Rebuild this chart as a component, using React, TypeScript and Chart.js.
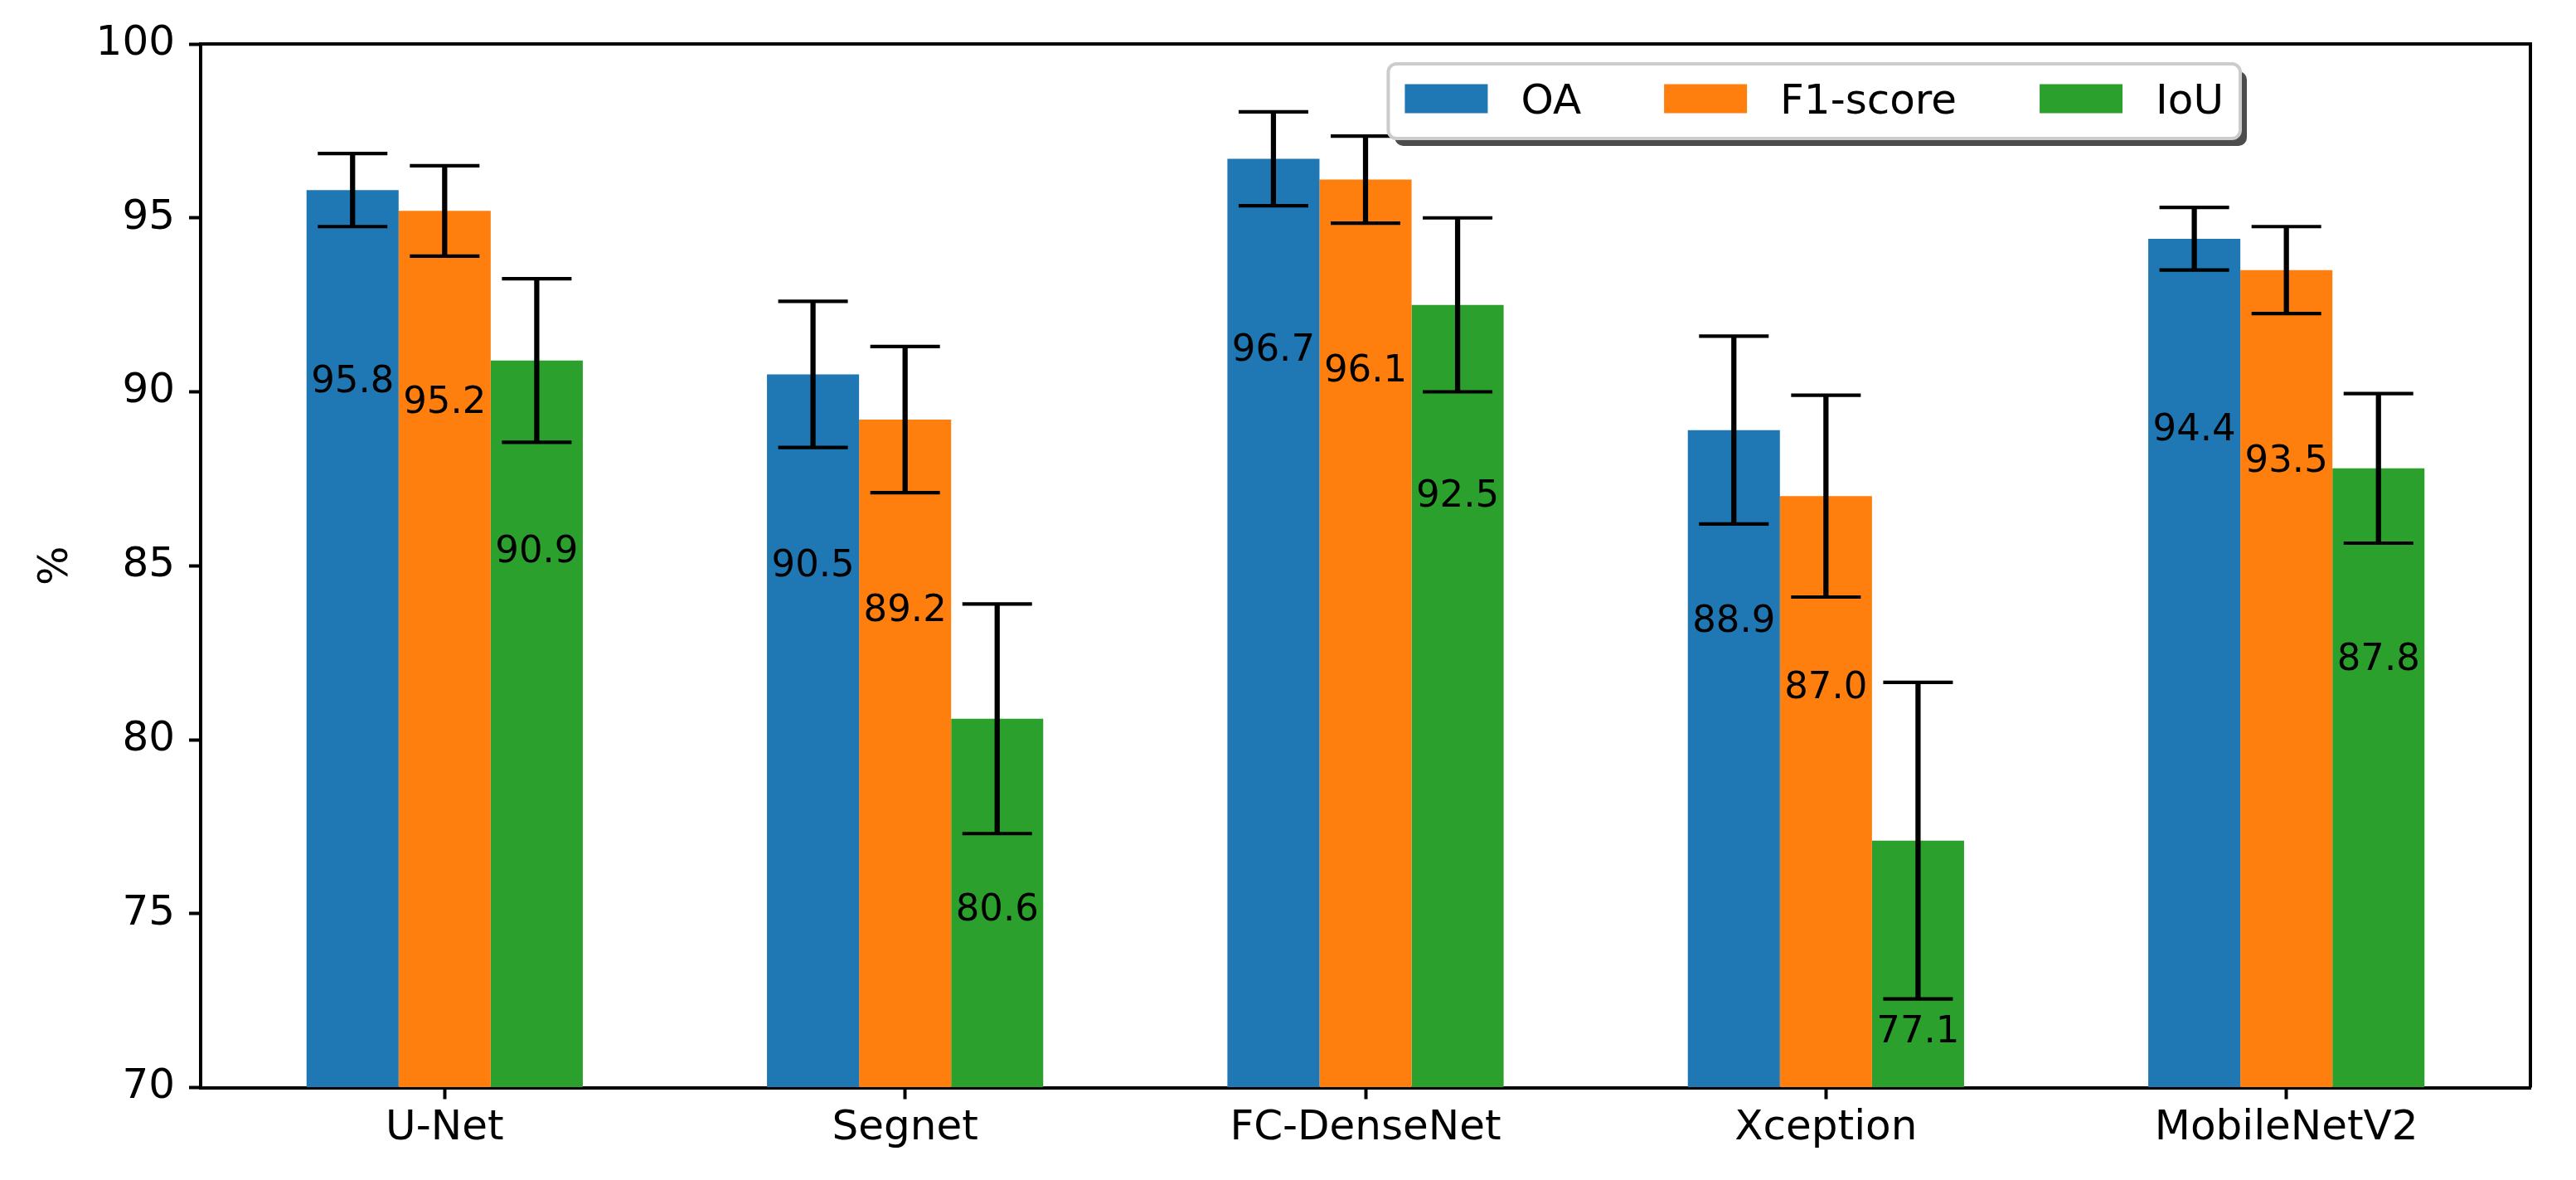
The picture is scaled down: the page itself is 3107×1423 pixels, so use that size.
import React, { useEffect, useRef } from 'react';
import { Chart, registerables } from 'chart.js';

Chart.register(...registerables);

const models = ['U-Net', 'Segnet', 'FC-DenseNet', 'Xception', 'MobileNetV2'];
const metricNames = ['OA', 'F1-score', 'IoU'];
const oaValues = [95.8, 90.5, 96.7, 88.9, 94.4];
const f1Values = [95.2, 89.2, 96.1, 87.0, 93.5];
const iouValues = [90.9, 80.6, 92.5, 77.1, 87.8];
const oaErrors = [1.05, 2.1, 1.35, 2.7, 0.9];
const f1Errors = [1.3, 2.1, 1.25, 2.9, 1.25];
const iouErrors = [2.35, 3.3, 2.5, 4.55, 2.15];
const yTicks = [70, 75, 80, 85, 90, 95, 100];

const colors = ['#1f77b4', '#ff7f0e', '#2ca02c'];
const FONT = '"DejaVu Sans", sans-serif';

const seriesValues = [oaValues, f1Values, iouValues];
const seriesErrors = [oaErrors, f1Errors, iouErrors];

// error bars + value labels under the bars' tops
const errorBarPlugin = {
  id: 'errorBars',
  afterDatasetsDraw(chart: any) {
    const ctx = chart.ctx;
    const yScale = chart.scales.y;
    ctx.save();
    ctx.strokeStyle = '#000';
    chart.data.datasets.forEach((_: any, d: number) => {
      const meta = chart.getDatasetMeta(d);
      meta.data.forEach((bar: any, i: number) => {
        const v = seriesValues[d][i];
        const e = seriesErrors[d][i];
        const yTop = yScale.getPixelForValue(v + e);
        const yBot = yScale.getPixelForValue(v - e);
        ctx.lineWidth = 6.25;
        ctx.beginPath();
        ctx.moveTo(bar.x, yTop);
        ctx.lineTo(bar.x, yBot);
        ctx.stroke();
        ctx.lineWidth = 4.2;
        ctx.beginPath();
        ctx.moveTo(bar.x - 42, yTop);
        ctx.lineTo(bar.x + 42, yTop);
        ctx.moveTo(bar.x - 42, yBot);
        ctx.lineTo(bar.x + 42, yBot);
        ctx.stroke();
      });
    });
    ctx.fillStyle = '#000';
    ctx.font = `45px ${FONT}`;
    ctx.textAlign = 'center';
    ctx.textBaseline = 'alphabetic';
    chart.data.datasets.forEach((_: any, d: number) => {
      const meta = chart.getDatasetMeta(d);
      meta.data.forEach((bar: any, i: number) => {
        const v = seriesValues[d][i];
        ctx.fillText(v.toFixed(1), bar.x, yScale.getPixelForValue(v - 5.8));
      });
    });
    ctx.restore();
  },
};

// top/right spines and matplotlib-like legend
const framePlugin = {
  id: 'frameAndLegend',
  afterDraw(chart: any) {
    const ctx = chart.ctx;
    const { top, right, bottom, left } = chart.chartArea;
    ctx.save();
    ctx.strokeStyle = '#000';
    ctx.lineWidth = 4;
    ctx.beginPath();
    ctx.moveTo(left, top);
    ctx.lineTo(right, top);
    ctx.lineTo(right, bottom);
    ctx.stroke();

    const fs = 50;
    ctx.font = `${fs}px ${FONT}`;
    const pad = 0.4 * fs;
    const handleLen = 2 * fs;
    const handleH = 0.7 * fs;
    const textPad = 0.8 * fs;
    const colSpace = 2 * fs;
    const widths = metricNames.map((n) => ctx.measureText(n).width);
    const inner =
      widths.reduce((a, w) => a + handleLen + textPad + w, 0) + colSpace * (metricNames.length - 1);
    const boxW = inner + 2 * pad;
    const boxH = fs + 2 * pad;
    const boxRight = right - 350;
    const boxLeft = boxRight - boxW;
    const boxTop = top + 24;

    ctx.fillStyle = 'rgba(0,0,0,0.7)';
    ctx.beginPath();
    ctx.roundRect(boxLeft + 8, boxTop + 9, boxW, boxH, 10);
    ctx.fill();
    ctx.fillStyle = '#fff';
    ctx.strokeStyle = '#cccccc';
    ctx.lineWidth = 4;
    ctx.beginPath();
    ctx.roundRect(boxLeft, boxTop, boxW, boxH, 10);
    ctx.fill();
    ctx.stroke();

    const rowCenter = boxTop + boxH / 2 - 3;
    let x = boxLeft + pad;
    ctx.textAlign = 'left';
    ctx.textBaseline = 'alphabetic';
    metricNames.forEach((name, i) => {
      ctx.fillStyle = colors[i];
      ctx.fillRect(x, rowCenter - handleH / 2, handleLen, handleH);
      x += handleLen + textPad;
      ctx.fillStyle = '#000';
      ctx.fillText(name, x, rowCenter + (0.729 * fs) / 2);
      x += widths[i] + colSpace;
    });
    ctx.restore();
  },
};

export default function App() {
  const canvasRef = useRef<HTMLCanvasElement>(null);
  const chartRef = useRef<Chart | null>(null);

  useEffect(() => {
    if (!canvasRef.current) return;
    if (chartRef.current) chartRef.current.destroy();

    chartRef.current = new Chart(canvasRef.current, {
      type: 'bar',
      data: {
        datasets: metricNames.map((name, d) => ({
          label: name,
          data: seriesValues[d].map((v, i) => ({ x: i, y: v })),
          backgroundColor: colors[d],
          borderWidth: 0,
          base: 70,
          barPercentage: 1.0,
          categoryPercentage: 0.6,
        })),
      },
      options: {
        responsive: true,
        maintainAspectRatio: false,
        animation: false,
        layout: { padding: { top: 53, right: 55, left: 0, bottom: 0 } },
        plugins: {
          legend: { display: false },
          tooltip: { enabled: false },
        },
        scales: {
          x: {
            type: 'linear',
            min: -0.53,
            max: 4.53,
            offset: false,
            afterBuildTicks: (scale: any) => {
              scale.ticks = models.map((_, i) => ({ value: i }));
            },
            afterFit: (scale: any) => {
              scale.height = 111.5;
            },
            grid: {
              offset: false,
              drawOnChartArea: false,
              drawTicks: true,
              tickLength: 14,
              tickWidth: 4,
              tickColor: '#000',
            },
            border: { display: true, color: '#000', width: 4 },
            ticks: {
              padding: 6,
              color: '#000',
              font: { family: FONT, size: 50 },
              maxRotation: 0,
              autoSkip: false,
              includeBounds: false,
              callback: (value: any) => models[value as number] ?? '',
            },
          },
          y: {
            min: 70,
            max: 100,
            afterBuildTicks: (scale: any) => {
              scale.ticks = yTicks.map((v) => ({ value: v }));
            },
            afterFit: (scale: any) => {
              scale.width = 242;
            },
            grid: {
              drawOnChartArea: false,
              drawTicks: true,
              tickLength: 14,
              tickWidth: 4,
              tickColor: '#000',
            },
            border: { display: true, color: '#000', width: 4 },
            ticks: {
              padding: 17,
              color: '#000',
              font: { family: FONT, size: 50 },
              callback: (value: any) => String(value),
            },
            title: {
              display: true,
              text: '%',
              color: '#000',
              font: { family: FONT, size: 50 },
              padding: { top: 38, bottom: 0 },
            },
          },
        },
      },
      plugins: [errorBarPlugin, framePlugin],
    } as any);

    return () => {
      if (chartRef.current) {
        chartRef.current.destroy();
        chartRef.current = null;
      }
    };
  }, []);

  return (
    <div style={{ position: 'fixed', left: 0, top: 0, width: 3107, height: 1423, background: '#fff' }}>
      <canvas ref={canvasRef} />
    </div>
  );
}
